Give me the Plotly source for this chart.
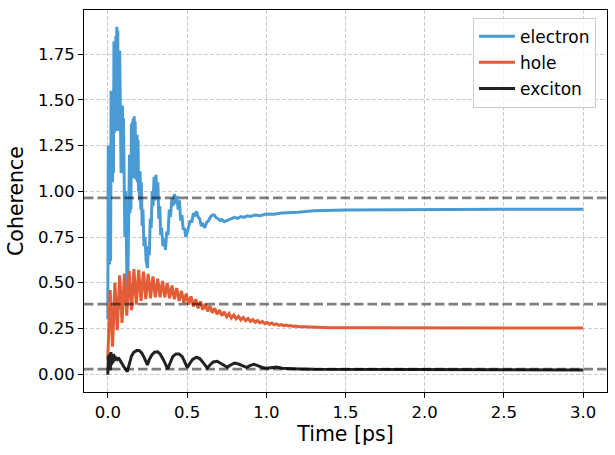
import plotly.graph_objects as go

# ---------------- data ----------------
electron_t = [0.000, 0.003, 0.006, 0.009, 0.012, 0.015, 0.018, 0.021, 0.024, 0.027,
              0.030, 0.033, 0.036, 0.039, 0.042, 0.045, 0.048, 0.051, 0.054, 0.057,
              0.060, 0.063, 0.066, 0.069, 0.072, 0.075, 0.078, 0.081, 0.084, 0.087,
              0.090, 0.093, 0.096, 0.099, 0.104, 0.108, 0.113, 0.118, 0.123, 0.128,
              0.133, 0.137, 0.140, 0.143, 0.146, 0.149, 0.152, 0.155, 0.158, 0.161,
              0.164, 0.167, 0.170, 0.173, 0.176, 0.179, 0.182, 0.185, 0.188, 0.191,
              0.194, 0.197, 0.200, 0.204, 0.208, 0.212, 0.217, 0.222, 0.228, 0.235,
              0.242, 0.250, 0.256, 0.262, 0.268, 0.274, 0.280, 0.286, 0.292, 0.298,
              0.304, 0.310, 0.316, 0.322, 0.328, 0.334, 0.340, 0.348, 0.356, 0.364,
              0.372, 0.380, 0.388, 0.396, 0.404, 0.412, 0.420, 0.428, 0.436, 0.444,
              0.452, 0.460, 0.468, 0.476, 0.484, 0.492, 0.500, 0.510, 0.520, 0.530,
              0.540, 0.550, 0.560, 0.570, 0.580, 0.590, 0.600, 0.612, 0.624, 0.636,
              0.648, 0.660, 0.672, 0.684, 0.696, 0.708, 0.720, 0.735, 0.750, 0.765,
              0.780, 0.800, 0.820, 0.840, 0.860, 0.880, 0.900, 0.930, 0.960, 1.000,
              1.050, 1.100, 1.200, 1.300, 1.500, 1.750, 2.000, 2.500, 3.000]
electron_c = [0.30, 1.25, 0.60, 1.25, 0.60, 1.25, 0.62, 1.55, 1.05, 1.55,
              1.05, 1.55, 1.10, 1.82, 1.32, 1.82, 1.33, 1.85, 1.33, 1.90,
              1.33, 1.88, 1.34, 1.77, 1.33, 1.77, 1.35, 1.47, 1.10, 1.47,
              1.12, 1.47, 1.10, 1.40, 0.95, 0.75, 1.00, 0.55, 0.39, 0.60,
              0.90, 1.20, 0.88, 1.20, 0.90, 1.37, 1.07, 1.38, 1.07, 1.40,
              1.08, 1.41, 1.08, 1.38, 1.07, 1.31, 1.06, 1.31, 1.05, 1.28,
              1.00, 1.11, 0.95, 1.11, 0.90, 1.05, 0.81, 0.90, 0.70, 0.75,
              0.62, 0.58, 0.70, 0.65, 0.85, 0.80, 1.00, 0.92, 1.08, 0.95,
              1.09, 0.96, 1.05, 0.85, 0.92, 0.76, 0.80, 0.70, 0.74, 0.68,
              0.78, 0.76, 0.90, 0.86, 0.96, 0.92, 0.985, 0.93, 0.975, 0.90,
              0.95, 0.84, 0.87, 0.79, 0.80, 0.75, 0.77, 0.80, 0.84, 0.83,
              0.88, 0.87, 0.89, 0.86, 0.85, 0.81, 0.82, 0.80, 0.83, 0.84,
              0.86, 0.87, 0.87, 0.855, 0.85, 0.84, 0.845, 0.834, 0.84, 0.846,
              0.85, 0.858, 0.852, 0.862, 0.857, 0.866, 0.862, 0.870, 0.866, 0.876,
              0.874, 0.882, 0.886, 0.893, 0.898, 0.900, 0.901, 0.902, 0.902]

hole_t = [0.000, 0.015, 0.030, 0.045, 0.060, 0.075, 0.090, 0.105, 0.120, 0.135,
          0.150, 0.165, 0.180, 0.195, 0.210, 0.225, 0.240, 0.255, 0.270, 0.285,
          0.300, 0.315, 0.330, 0.345, 0.360, 0.375, 0.390, 0.405, 0.420, 0.435,
          0.450, 0.465, 0.480, 0.495, 0.510, 0.525, 0.540, 0.555, 0.570, 0.585,
          0.600, 0.615, 0.630, 0.645, 0.660, 0.675, 0.690, 0.705, 0.720, 0.735,
          0.750, 0.765, 0.780, 0.795, 0.810, 0.825, 0.840, 0.855, 0.870, 0.885,
          0.900, 0.915, 0.930, 0.945, 0.960, 0.975, 0.990, 1.005, 1.020, 1.035,
          1.050, 1.065, 1.080, 1.095, 1.110, 1.125, 1.140, 1.155, 1.170, 1.185,
          1.200, 1.250, 1.300, 1.400, 1.600, 2.000, 3.000]
hole_c = [0.08, 0.46, 0.15, 0.50, 0.24, 0.54, 0.28, 0.55, 0.32, 0.565,
          0.35, 0.574, 0.38, 0.57, 0.40, 0.56, 0.41, 0.548, 0.415, 0.535,
          0.42, 0.522, 0.42, 0.51, 0.42, 0.498, 0.415, 0.485, 0.41, 0.47,
          0.40, 0.455, 0.39, 0.44, 0.38, 0.425, 0.37, 0.41, 0.36, 0.397,
          0.352, 0.385, 0.343, 0.372, 0.335, 0.36, 0.328, 0.35, 0.320, 0.34,
          0.313, 0.331, 0.307, 0.323, 0.302, 0.316, 0.297, 0.31, 0.292, 0.304,
          0.288, 0.298, 0.284, 0.293, 0.280, 0.288, 0.276, 0.283, 0.273, 0.279,
          0.270, 0.275, 0.267, 0.271, 0.265, 0.268, 0.263, 0.265, 0.261, 0.263,
          0.260, 0.258, 0.256, 0.254, 0.253, 0.252, 0.252]

exciton_t = [0.000, 0.004, 0.008, 0.012, 0.016, 0.020, 0.024, 0.028, 0.032, 0.036,
             0.040, 0.045, 0.050, 0.055, 0.062, 0.070, 0.078, 0.090, 0.105, 0.123,
             0.135, 0.150, 0.165, 0.185, 0.200, 0.215, 0.230, 0.250, 0.262, 0.278,
             0.295, 0.315, 0.330, 0.350, 0.378, 0.392, 0.410, 0.430, 0.450, 0.470,
             0.485, 0.502, 0.515, 0.535, 0.560, 0.580, 0.600, 0.628, 0.645, 0.665,
             0.690, 0.710, 0.735, 0.754, 0.775, 0.800, 0.825, 0.850, 0.876, 0.900,
             0.922, 0.950, 0.975, 1.000, 1.030, 1.066, 1.100, 1.150, 1.210, 1.300,
             1.500, 2.000, 2.500, 3.000]
exciton_c = [-0.004, 0.10, 0.03, 0.11, 0.02, 0.12, 0.05, 0.10, 0.06, 0.11,
             0.07, 0.10, 0.075, 0.09, 0.08, 0.085, 0.075, 0.055, 0.035, 0.014,
             0.06, 0.10, 0.12, 0.13, 0.128, 0.115, 0.09, 0.05, 0.08, 0.105,
             0.12, 0.122, 0.11, 0.08, 0.028, 0.06, 0.095, 0.11, 0.11, 0.095,
             0.07, 0.035, 0.055, 0.08, 0.092, 0.085, 0.065, 0.033, 0.05, 0.066,
             0.07, 0.06, 0.045, 0.037, 0.05, 0.06, 0.055, 0.045, 0.037, 0.048,
             0.053, 0.045, 0.036, 0.032, 0.036, 0.038, 0.032, 0.029, 0.028, 0.026,
             0.025, 0.024, 0.024, 0.023]

ref_levels = [0.964, 0.383, 0.027]

x_ticks = [0.0, 0.5, 1.0, 1.5, 2.0, 2.5, 3.0]
y_ticks = [0.00, 0.25, 0.50, 0.75, 1.00, 1.25, 1.50, 1.75]

series = [
    ("electron", electron_t, electron_c, "#4a9bd4"),
    ("hole", hole_t, hole_c, "#e25c35"),
    ("exciton", exciton_t, exciton_c, "#222222"),
]

# ---------------- figure ----------------
FONT = "DejaVu Sans"
fig = go.Figure()
for i, (name, t, c, col) in enumerate(series):
    fig.add_trace(go.Scatter(x=t, y=c, mode="lines", name=name, legendgroup=f"g{i}",
                             line=dict(color=col, width=3)))

for lv in ref_levels:
    fig.add_hline(y=lv, line=dict(color="rgba(0,0,0,0.5)", width=2.8, dash="9.5px,4px"),
                  layer="above")

axis_common = dict(
    showline=True, linecolor="black", linewidth=1, mirror=True,
    ticks="outside", ticklen=5, tickwidth=1, tickcolor="black",
    showgrid=True, gridcolor="#cccccc", gridwidth=1, griddash="4px,2px",
    zeroline=False, tickfont=dict(family=FONT, size=16.5, color="black"),
)

fig.update_xaxes(range=[-0.15, 3.15], tickvals=x_ticks,
                 ticktext=[f"{v:.1f}" for v in x_ticks],
                 title=dict(text="Time [ps]", font=dict(family=FONT, size=20.5, color="black"),
                            standoff=4),
                 **axis_common)
fig.update_yaxes(range=[-0.098, 1.992], tickvals=y_ticks,
                 ticktext=[f"{v:.2f}" for v in y_ticks],
                 title=dict(text="Coherence", font=dict(family=FONT, size=20.5, color="black"),
                            standoff=8),
                 **axis_common)

fig.update_layout(
    width=615, height=455,
    margin=dict(l=84, r=8, t=10, b=63, autoexpand=False),
    paper_bgcolor="white", plot_bgcolor="white",
    font=dict(family=FONT, size=16, color="black"),
    showlegend=True,
    legend=dict(x=0.979, y=0.98, xanchor="right", yanchor="top",
                bgcolor="rgba(255,255,255,0.8)", bordercolor="#cccccc", borderwidth=1,
                tracegroupgap=1, itemwidth=36,
                font=dict(family=FONT, size=17, color="black")),
)

fig.write_html("out.html")
